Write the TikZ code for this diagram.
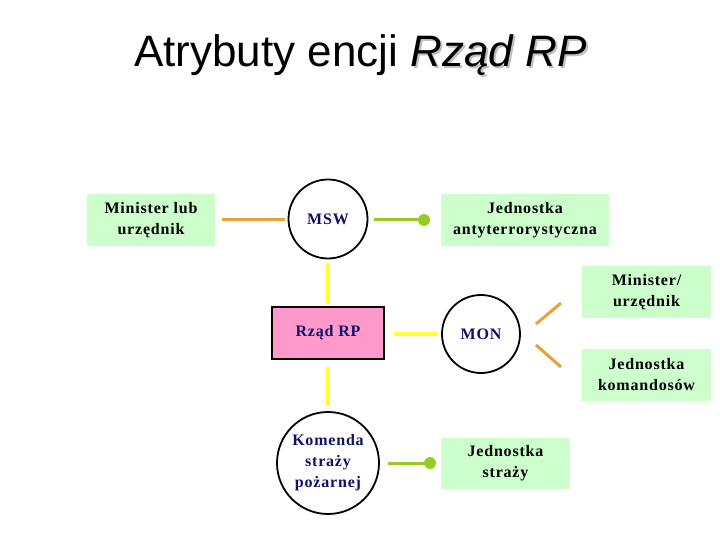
\documentclass[tikz,border=0pt]{standalone}
\usepackage{fontspec}
\setmainfont{Liberation Serif}
\newfontfamily\titlefont{Liberation Sans}
\newfontfamily\boxfont[LetterSpace=5]{Liberation Serif}
\definecolor{boxgreen}{HTML}{CCFFCC}
\definecolor{pinkfill}{HTML}{FF99CC}
\definecolor{lineorange}{HTML}{E8A23A}
\definecolor{lineyellow}{HTML}{FFFF33}
\definecolor{linegreen}{HTML}{99CC22}
\definecolor{navytext}{HTML}{10106A}
\begin{document}
\begin{tikzpicture}[x=1pt,y=-1pt,
  attrbox/.style={fill=boxgreen,draw=none,minimum width=128pt,minimum height=51pt,inner sep=0pt,align=center,font=\boxfont\fontsize{16}{21}\selectfont\bfseries},
  circ/.style={circle,draw=black,line width=1.8pt,fill=white,inner sep=0pt,align=center,text=navytext,font=\boxfont\fontsize{16}{21}\selectfont\bfseries},
  oline/.style={lineorange,line width=3pt},
  yline/.style={lineyellow,line width=3.5pt},
  gline/.style={linegreen,line width=3pt},
  gdot/.style={circle,fill=linegreen,inner sep=0pt,minimum size=12pt}]
\useasboundingbox (0,0) rectangle (720,540);
\fill[white] (0,0) rectangle (720,540);
% title
\node[anchor=base,font=\titlefont\fontsize{44}{50}\selectfont,text=gray!50] (titlesh) at (362.5,69) {\phantom{Atrybuty encji }\textit{Rząd RP}};
\node[anchor=base,font=\titlefont\fontsize{44}{50}\selectfont] (title) at (360.5,67) {Atrybuty encji \textit{Rząd RP}};
% nodes
\node[attrbox] (minlub) at (151,220) {Minister lub\\urzędnik};
\node[circ,minimum size=79pt] (msw) at (328,219) {MSW};
\node[attrbox,minimum width=168pt] (anty) at (525,220) {Jednostka\\antyterrorystyczna};
\node[draw=black,line width=2pt,fill=pinkfill,minimum width=112pt,minimum height=52pt,inner sep=0pt,text=navytext,font=\boxfont\fontsize{16}{21}\selectfont\bfseries] (rzad) at (328,333) {Rząd RP};
\node[circ,minimum size=78pt] (mon) at (481,334) {MON};
\node[attrbox,minimum width=129pt,minimum height=52pt] (minurz) at (646.5,292) {Minister/\\urzędnik};
\node[attrbox,minimum width=129pt,minimum height=52pt] (koman) at (646.5,375) {Jednostka\\komandosów};
\node[circ,minimum size=102pt] (komenda) at (328,463) {Komenda\\straży\\pożarnej};
\node[attrbox,minimum width=129pt] (straz) at (505.5,463.5) {Jednostka\\straży};
% connectors
\coordinate (o1a) at (222,220); \coordinate (o1b) at (285,220);
\draw[oline] (o1a) -- (o1b);
\coordinate (g1a) at (374,220); \coordinate (g1b) at (424,220);
\draw[gline] (g1a) -- (g1b);
\node[gdot] (d1) at (g1b) {};
\coordinate (y1a) at (328,263); \coordinate (y1b) at (328,303);
\draw[yline] (y1a) -- (y1b);
\coordinate (y2a) at (394,334); \coordinate (y2b) at (437,334);
\draw[yline] (y2a) -- (y2b);
\coordinate (y3a) at (328,367); \coordinate (y3b) at (328,405);
\draw[yline] (y3a) -- (y3b);
\coordinate (o2a) at (536,324); \coordinate (o2b) at (561,303);
\draw[oline] (o2a) -- (o2b);
\coordinate (o3a) at (536,345); \coordinate (o3b) at (561,367);
\draw[oline] (o3a) -- (o3b);
\coordinate (g2a) at (388,463); \coordinate (g2b) at (430,463);
\draw[gline] (g2a) -- (g2b);
\node[gdot] (d2) at (g2b) {};
\end{tikzpicture}
\end{document}
